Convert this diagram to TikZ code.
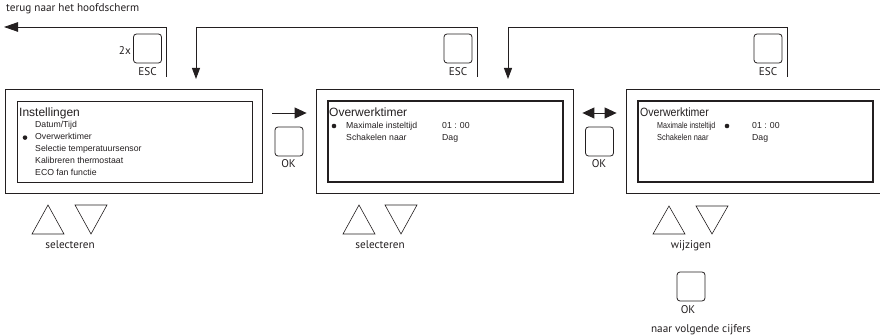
\documentclass[tikz,border=0pt]{standalone}
\usepackage{fontspec}
\setmainfont{Liberation Sans}
\newfontfamily\labelfont{PT Sans}
\usetikzlibrary{arrows.meta,positioning,calc}
\definecolor{Ink}{HTML}{231F20}

\begin{document}
\begin{tikzpicture}[x=1pt,y=-1pt,
    screenbox/.style={draw=Ink,line width=.8pt,minimum width=257pt,minimum height=104pt,inner sep=0},
    lcdbox/.style={draw=Ink,minimum width=235pt,minimum height=81pt,inner sep=0},
    keybox/.style={draw=Ink,line width=.8pt,rounded corners=3pt,minimum width=28pt,minimum height=29pt,inner sep=0},
    keytext/.style={font=\labelfont\fontsize{11.2}{13}\selectfont,text=Ink,inner sep=0,anchor=base},
    hdr/.style={font=\fontsize{12}{14}\selectfont,text=Ink,inner sep=0,anchor=base west},
    row/.style={font=\fontsize{8.7}{10}\selectfont,text=Ink,inner sep=0,anchor=base west},
    narrow/.style={transform shape,xscale=#1},
    dot/.style={circle,fill=Ink,inner sep=0,minimum size=4.6pt},
    tri/.style={draw=Ink,line width=.6pt},
    back/.style={draw=Ink,line width=.9pt,-{Triangle[length=11pt,width=8pt]}},
    fwd/.style={draw=Ink,line width=.9pt,-{Triangle[length=12pt,width=11pt]}},
    both/.style={draw=Ink,line width=.9pt,{Triangle[length=12pt,width=11pt]}-{Triangle[length=12pt,width=11pt]}}]
  \useasboundingbox (0,0) rectangle (880,336);
  \node[keytext,anchor=base west] (home) at (6,12) {terug naar het hoofdscherm};
  \coordinate (homeend) at (4,27);
  % scherm 1: menu
  \begin{scope}
    \node[screenbox] (scr1) at (133.5,141) {};
    \node[lcdbox,line width=.8pt] (lcd1) at (134.5,141.5) {};
    \node[hdr] (h1) at (19,117) {Instellingen};
    \node[row] (r11) at (35,128) {Datum/Tijd};
    \node[row] (r12) at (35,140) {Overwerktimer};
    \node[row] (r13) at (35,152) {Selectie temperatuursensor};
    \node[row] (r14) at (35,164) {Kalibreren thermostaat};
    \node[row] (r15) at (35,176) {ECO fan functie};
    \node[dot] (d1) at (25,137.6) {};
    \node[keybox] (esc1) at (147.5,48.5) {};
    \node[keytext] (e1) at (147.5,76) {ESC};
    \node[keytext,anchor=base east] (n1) at (131,55) {2x};
    \node[keybox] (ok1) at (289,141.5) {};
    \node[keytext] (o1) at (288.5,168) {OK};
    \draw[tri] (32,234) -- (64,234) -- (48,205) -- cycle;
    \draw[tri] (75,205) -- (107,205) -- (91,234) -- cycle;
    \node[keytext] (s1) at (70,249) {selecteren};
    \coordinate (up1) at (166,77);
    \coordinate (in1) at (196,79);
  \end{scope}
  % scherm 2: overwerktimer
  \begin{scope}[shift={(311,0)}]
    \node[screenbox] (scr2) at (133.5,141) {};
    \node[lcdbox,line width=1.4pt] (lcd2) at (134.5,141.5) {};
    \node[hdr] (h2) at (18,117) {Overwerktimer};
    \node[row] (m2) at (35,128.5) {Maximale insteltijd};
    \node[row] (v2) at (131,128.5) {01 : 00};
    \node[row] (k2) at (35,140.5) {Schakelen naar};
    \node[row] (w2) at (131,140.5) {Dag};
    \node[dot] (d2) at (23,126) {};
    \node[keybox] (esc2) at (147,48.5) {};
    \node[keytext] (e2) at (147,76) {ESC};
    \node[keybox] (ok2) at (288.5,141.5) {};
    \node[keytext] (o2) at (288,168) {OK};
    \draw[tri] (32,234) -- (64,234) -- (48,205) -- cycle;
    \draw[tri] (74,205) -- (106,205) -- (90,234) -- cycle;
    \node[keytext] (s2) at (69,249) {selecteren};
    \coordinate (up2) at (166,77);
    \coordinate (in2) at (197,79);
  \end{scope}
  % scherm 3: waarde wijzigen
  \begin{scope}[shift={(621,0)}]
    \node[screenbox] (scr3) at (133.5,141) {};
    \node[lcdbox,line width=2pt] (lcd3) at (134.5,141.5) {};
    \node[hdr,narrow=.88] (h3) at (19,117) {Overwerktimer};
    \node[row,narrow=.82] (m3) at (36,128.5) {Maximale insteltijd};
    \node[row] (v3) at (131,128.5) {01 : 00};
    \node[row,narrow=.85] (k3) at (36,140.5) {Schakelen naar};
    \node[row] (w3) at (131,140.5) {Dag};
    \node[dot] (d3) at (106,126) {};
    \node[keybox] (esc3) at (147,48.5) {};
    \node[keytext] (e3) at (147,76) {ESC};
    \draw[tri] (32,234) -- (64,234) -- (48,206) -- cycle;
    \draw[tri] (75,206) -- (107,206) -- (91,234) -- cycle;
    \node[keytext] (s3) at (70,249) {wijzigen};
    \node[keybox] (ok3) at (70,286.5) {};
    \node[keytext] (o3) at (67,314) {OK};
    \node[keytext] (c3) at (80,333) {naar volgende cijfers};
    \coordinate (up3) at (166,77);
  \end{scope}
  % verbindingen
  \draw[back,-{Triangle[length=14pt,width=9.5pt]}] (up1) |- (homeend);
  \draw[back] (up2) -- ++(0,-50) -| (in1);
  \draw[back] (up3) -- ++(0,-50) -| (in2);
  \draw[fwd] ([xshift=10pt,yshift=28pt]scr1.east) -- ([xshift=-9pt,yshift=28pt]scr2.west);
  \draw[both] ([xshift=9pt,yshift=28pt]scr2.east) -- ([xshift=-9pt,yshift=28pt]scr3.west);
\end{tikzpicture}
\end{document}
